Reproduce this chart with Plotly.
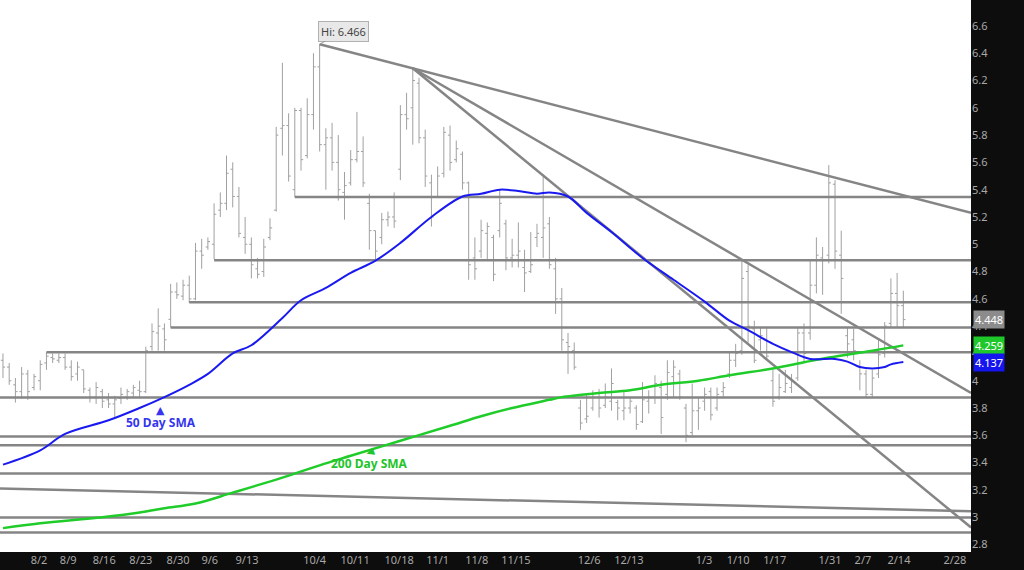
import plotly.graph_objects as go

# ---------------- data (price, per trading-day bar index) ----------------
opens = [4.15, 4.10, 3.97, 3.92, 4.05, 3.95, 4.00, 4.13, 4.17, 4.15,
         4.17, 4.10, 4.05, 4.08, 3.93, 3.88, 3.92, 3.86, 3.83, 3.87,
         3.88, 3.91, 3.93, 3.92, 4.25, 4.35, 4.38, 4.45, 4.65, 4.62,
         4.70, 4.60, 4.95, 4.98, 5.00, 5.25, 5.30, 5.55, 5.35, 5.05,
         5.00, 4.82, 4.80, 5.05, 5.25, 5.85, 5.87, 5.40, 5.98, 5.65,
         5.95, 6.30, 5.73, 5.78, 5.60, 5.38, 5.45, 5.62, 5.68, 5.30,
         5.10, 5.05, 5.18, 5.20, 5.55, 5.95, 6.00, 6.18, 5.78, 5.45,
         5.35, 5.52, 5.80, 5.62, 5.66, 5.45, 4.90, 4.95, 5.08, 5.05,
         5.10, 5.15, 4.90, 4.92, 4.83, 4.80, 5.05, 5.05, 5.15, 4.82,
         4.60, 4.28, 4.22, 3.80, 3.72, 3.80, 3.88, 3.82, 3.85, 3.84,
         3.78, 3.80, 3.80, 3.70, 3.85, 3.88, 3.95, 3.90, 4.03, 4.05,
         3.80, 3.62, 3.78, 3.85, 3.92, 3.80, 3.92, 4.05, 4.15, 4.22,
         4.80, 4.38, 4.30, 4.30, 4.00, 3.88, 3.92, 3.95, 4.02, 4.35,
         4.35, 4.70, 4.90, 4.92, 5.44, 4.92, 4.33, 4.30, 4.10, 4.05,
         3.90, 4.05, 4.20, 4.42, 4.64, 4.55]
highs = [4.20, 4.13, 4.02, 4.10, 4.08, 4.05, 4.15, 4.21, 4.20, 4.20,
         4.20, 4.15, 4.14, 4.08, 3.95, 3.99, 3.94, 3.91, 3.89, 3.95,
         3.94, 3.97, 4.00, 4.25, 4.42, 4.53, 4.42, 4.71, 4.72, 4.74,
         4.77, 5.01, 5.04, 5.05, 5.30, 5.38, 5.65, 5.60, 5.42, 5.20,
         5.05, 4.90, 5.04, 5.19, 5.86, 6.33, 5.96, 6.00, 6.00, 6.07,
         6.40, 6.466, 5.85, 5.89, 5.80, 5.53, 5.69, 5.97, 5.79, 5.37,
         5.10, 5.23, 5.24, 5.38, 6.02, 6.11, 6.29, 6.22, 5.84, 5.51,
         5.57, 5.86, 5.87, 5.76, 5.68, 5.46, 5.05, 5.18, 5.16, 5.07,
         5.40, 5.18, 5.04, 5.16, 4.96, 5.09, 5.15, 5.51, 5.20, 4.90,
         4.68, 4.35, 4.28, 3.86, 3.91, 3.93, 3.94, 3.98, 4.09, 3.86,
         3.93, 3.88, 3.82, 3.99, 3.93, 4.04, 4.00, 4.15, 4.15, 4.08,
         3.83, 3.98, 3.88, 3.95, 3.95, 3.95, 3.99, 4.21, 4.27, 4.88,
         4.85, 4.44, 4.39, 4.39, 4.08, 4.05, 4.08, 4.05, 4.39, 4.42,
         4.88, 5.05, 4.98, 5.58, 5.47, 5.10, 4.39, 4.38, 4.15, 4.08,
         4.08, 4.30, 4.43, 4.75, 4.79, 4.66]
lows = [4.02, 3.97, 3.84, 3.87, 3.86, 3.93, 3.93, 4.08, 4.13, 4.13,
        4.08, 4.00, 4.00, 3.91, 3.84, 3.83, 3.80, 3.80, 3.73, 3.83,
        3.86, 3.88, 3.87, 3.91, 4.22, 4.22, 4.22, 4.39, 4.60, 4.59,
        4.57, 4.59, 4.82, 4.96, 4.89, 5.20, 5.25, 5.27, 5.05, 4.93,
        4.75, 4.75, 4.76, 5.03, 5.24, 5.65, 5.46, 5.346, 5.54, 5.63,
        5.84, 5.68, 5.40, 5.54, 5.32, 5.18, 5.43, 5.60, 5.42, 4.96,
        4.88, 5.00, 5.13, 5.12, 5.47, 5.84, 5.73, 5.74, 5.42, 5.13,
        5.35, 5.49, 5.54, 5.60, 5.40, 4.74, 4.74, 4.90, 4.88, 4.73,
        5.05, 4.81, 4.83, 4.83, 4.65, 4.79, 4.98, 4.90, 4.82, 4.49,
        4.22, 4.05, 4.08, 3.64, 3.69, 3.78, 3.73, 3.80, 3.78, 3.71,
        3.71, 3.76, 3.64, 3.69, 3.76, 3.83, 3.61, 3.86, 3.88, 3.86,
        3.55, 3.59, 3.64, 3.78, 3.71, 3.78, 3.88, 4.02, 4.10, 4.19,
        4.28, 4.13, 4.22, 4.15, 3.81, 3.86, 3.91, 3.91, 4.00, 4.13,
        4.30, 4.64, 4.63, 4.86, 4.82, 4.49, 4.17, 4.15, 3.93, 3.88,
        3.88, 4.02, 4.17, 4.39, 4.39, 4.39]
closes = [4.10, 4.00, 3.92, 4.05, 3.92, 4.03, 4.12, 4.18, 4.16, 4.17,
          4.10, 4.03, 4.10, 3.94, 3.88, 3.95, 3.85, 3.83, 3.86, 3.90,
          3.92, 3.95, 3.92, 4.22, 4.36, 4.40, 4.30, 4.65, 4.63, 4.70,
          4.60, 4.95, 4.92, 5.02, 5.22, 5.30, 5.52, 5.35, 5.08, 5.00,
          4.85, 4.78, 4.98, 5.12, 5.80, 5.87, 5.50, 5.98, 5.62, 5.95,
          6.30, 5.73, 5.78, 5.60, 5.40, 5.43, 5.62, 5.68, 5.45, 5.10,
          4.95, 5.18, 5.20, 5.17, 5.95, 5.92, 6.20, 5.78, 5.50, 5.20,
          5.50, 5.82, 5.60, 5.70, 5.45, 4.85, 4.82, 5.10, 5.13, 4.78,
          5.30, 4.90, 4.92, 4.95, 4.79, 4.85, 5.08, 5.12, 4.85, 4.60,
          4.30, 4.25, 4.10, 3.69, 3.74, 3.88, 3.80, 3.88, 3.98, 3.80,
          3.80, 3.85, 3.68, 3.86, 3.88, 3.98, 3.73, 4.06, 4.10, 3.88,
          3.60, 3.78, 3.80, 3.90, 3.75, 3.90, 3.95, 4.15, 4.20, 4.75,
          4.40, 4.15, 4.33, 4.18, 3.85, 3.95, 3.98, 4.00, 4.35, 4.20,
          4.70, 4.92, 4.88, 5.45, 4.95, 4.75, 4.27, 4.22, 4.05, 3.90,
          4.02, 4.19, 4.40, 4.64, 4.55, 4.448]
bar_idx = list(range(len(closes)))

# 50-day and 200-day SMA (bar index, price)
sma50_idx = [0, 6, 10, 17, 22, 26, 30, 33, 37, 40, 45, 48, 52, 56, 60, 64, 69, 74,
             77, 80, 83, 86, 88, 91, 94, 98, 103, 108, 113, 117, 120, 124, 127, 130,
             134, 136, 138, 140, 142, 143, 145]
sma50_val = [3.385, 3.49, 3.61, 3.71, 3.80, 3.88, 3.97, 4.05, 4.20, 4.26, 4.46, 4.59,
             4.68, 4.79, 4.88, 5.01, 5.20, 5.35, 5.37, 5.40, 5.39, 5.37, 5.38, 5.35,
             5.23, 5.09, 4.90, 4.74, 4.58, 4.44, 4.37, 4.27, 4.21, 4.16, 4.16, 4.14,
             4.10, 4.09, 4.10, 4.12, 4.137]
sma200_idx = [0, 6, 16, 22, 26, 31, 37, 45, 51, 56, 64, 72, 77, 82, 88, 90, 96, 101,
              106, 112, 117, 124, 129, 133, 140, 145]
sma200_val = [2.92, 2.955, 3.00, 3.035, 3.065, 3.10, 3.18, 3.29, 3.38, 3.45, 3.56,
              3.67, 3.74, 3.80, 3.86, 3.88, 3.91, 3.93, 3.97, 4.00, 4.04, 4.09, 4.135,
              4.17, 4.22, 4.259]

# horizontal support / resistance levels: (price, starting bar index)
level_price = [5.346, 4.883, 4.575, 4.39, 4.208, 3.878, 3.592, 3.528, 3.321, 2.998, 2.888]
level_start = [47, 34, 30, 27, 7, -0.5, -0.5, -0.5, -0.5, -0.5, -0.5]

# sloped trend lines: (x0, y0, x1, y1) in bar index / price
trend_x0 = [51, 66, 66, -0.5]
trend_y0 = [6.466, 6.29, 6.29, 3.211]
trend_x1 = [155.9, 155.9, 155.9, 155.9]
trend_y1 = [5.23, 3.91, 2.925, 3.044]

# x-axis tick labels
tick_labels = ["8/2", "8/9", "8/16", "8/23", "8/30", "9/6", "9/13", "10/4", "10/11",
               "10/18", "11/1", "11/8", "11/15", "12/6", "12/13", "1/3", "1/10", "1/17",
               "1/31", "2/7", "2/14", "2/28"]
tick_pos = [5.8, 10.5, 16.3, 22.2, 28.2, 33.3, 39.3, 50.2, 56.7, 63.8, 70.0, 76.3,
            82.6, 94.4, 100.8, 112.9, 118.4, 124.3, 133.2, 138.5, 144.3, 153.3]

X_MAX = 155.9
LINE_GRAY = "#858585"

fig = go.Figure()

# support levels
for p, s in zip(level_price, level_start):
    fig.add_trace(go.Scatter(x=[s, X_MAX], y=[p, p], mode="lines",
                             line=dict(color=LINE_GRAY, width=2.5),
                             hoverinfo="skip", showlegend=False))
# trend lines
for a, b, c, d in zip(trend_x0, trend_y0, trend_x1, trend_y1):
    fig.add_trace(go.Scatter(x=[a, c], y=[b, d], mode="lines",
                             line=dict(color=LINE_GRAY, width=2.5),
                             hoverinfo="skip", showlegend=False))

# price bars
fig.add_trace(go.Ohlc(x=bar_idx, open=opens, high=highs, low=lows, close=closes,
                      increasing=dict(line=dict(color="#a0a0a0", width=1)),
                      decreasing=dict(line=dict(color="#a0a0a0", width=1)),
                      tickwidth=0.35, hoverinfo="skip", showlegend=False))

# moving averages
fig.add_trace(go.Scatter(x=sma200_idx, y=sma200_val, mode="lines",
                         line=dict(color="#1fcc2a", width=2.5, shape="spline"),
                         hoverinfo="skip", showlegend=False))
fig.add_trace(go.Scatter(x=sma50_idx, y=sma50_val, mode="lines",
                         line=dict(color="#1a1af0", width=2, shape="spline"),
                         hoverinfo="skip", showlegend=False))

annotations = [
    dict(x=51, y=6.466, xref="x", yref="y", text="Hi: 6.466", showarrow=True,
         arrowhead=0, arrowwidth=1, arrowcolor="#999999", ax=24, ay=-13,
         bgcolor="#e8e8e8", bordercolor="#b0b0b0", borderwidth=1, borderpad=2,
         font=dict(family="Noto Sans", size=11, color="#444444")),
    dict(x=25.4, y=3.695, xref="x", yref="y", text="<b>50 Day SMA</b>", showarrow=False,
         font=dict(family="Noto Sans", size=12, color="#3535ee")),
    dict(x=25.4, y=3.785, xref="x", yref="y", text="▲", showarrow=False,
         font=dict(family="DejaVu Sans", size=11, color="#3535ee")),
    dict(x=59.1, y=3.394, xref="x", yref="y", text="<b>200 Day SMA</b>", showarrow=False,
         font=dict(family="Noto Sans", size=12, color="#22c42a")),
    dict(x=59.1, y=3.482, xref="x", yref="y", text="◀", showarrow=False, textangle=-20,
         font=dict(family="DejaVu Sans", size=10, color="#22c42a")),
]
for val, col in [(4.448, "#8c8c8c"), (4.259, "#1fc82a"), (4.137, "#1515ee")]:
    annotations.append(dict(x=1, y=val, xref="paper", yref="y", xanchor="left",
                            xshift=2, text=f"{val:.3f}", showarrow=False,
                            bgcolor=col, borderpad=1,
                            font=dict(family="Noto Sans", size=11, color="white")))

fig.update_layout(
    width=1024, height=570,
    margin=dict(l=0, r=53, t=0, b=18, pad=0),
    paper_bgcolor="#0d0d0d", plot_bgcolor="white",
    showlegend=False, annotations=annotations,
    xaxis=dict(range=[-0.48, X_MAX], tickvals=tick_pos, ticktext=tick_labels,
               showgrid=False, zeroline=False, ticks="", showline=False,
               rangeslider=dict(visible=False),
               tickfont=dict(family="Noto Sans", size=11, color="#a8a8a8")),
    yaxis=dict(side="right", range=[2.745, 6.79], tick0=2.8, dtick=0.2,
               showgrid=False, zeroline=False, ticks="", showline=False,
               tickfont=dict(family="Noto Sans", size=11, color="#a8a8a8")),
)

fig.write_html("out.html", config={"displayModeBar": False},
               post_script="document.body.style.margin='0';document.body.style.overflow='hidden';")
